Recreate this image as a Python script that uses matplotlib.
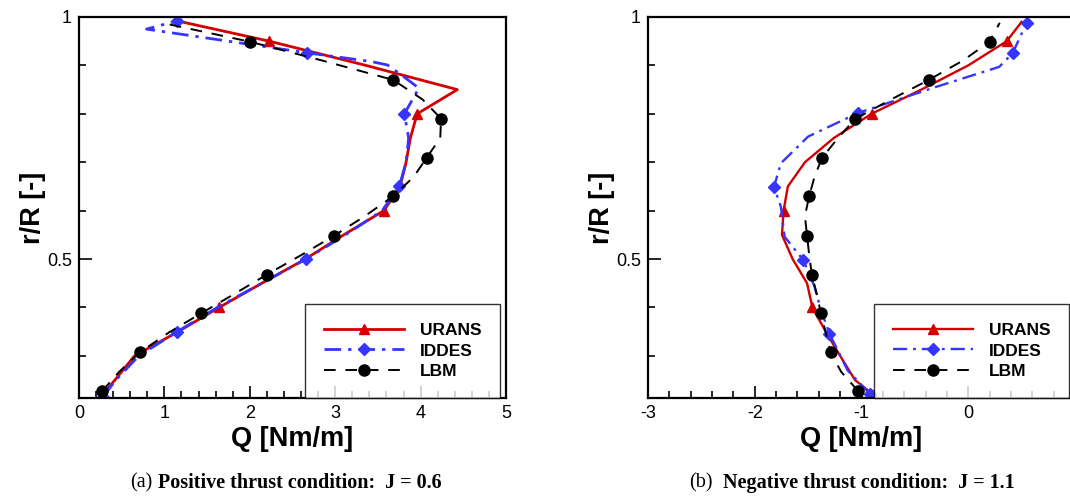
import matplotlib
matplotlib.use("Agg")
import matplotlib.pyplot as plt
from matplotlib.ticker import MultipleLocator

plt.rcParams['font.family'] = ['Liberation Sans', 'DejaVu Sans']
plt.rcParams['axes.unicode_minus'] = False

# (a) positive thrust, J = 0.6
r_urans = [0.22, 0.25, 0.30, 0.35, 0.40, 0.45, 0.50, 0.55, 0.60, 0.65, 0.70,
           0.75, 0.80, 0.85, 0.90, 0.95, 0.99]
q_urans_a = [0.28, 0.42, 0.65, 1.16, 1.64, 2.14, 2.65, 3.10, 3.57, 3.76, 3.83,
             3.88, 3.96, 4.43, 3.36, 2.23, 1.20]
urans_marks = [0, 4, 8, 12, 15]

r_iddes_a = [0.215, 0.25, 0.30, 0.35, 0.40, 0.45, 0.50, 0.55, 0.60, 0.63, 0.65,
             0.70, 0.75, 0.80, 0.853, 0.877, 0.901, 0.908, 0.926, 0.975, 0.992]
q_iddes_a = [0.28, 0.43, 0.70, 1.15, 1.62, 2.14, 2.66, 3.12, 3.55, 3.67, 3.75,
             3.83, 3.86, 3.81, 3.98, 3.80, 3.61, 3.42, 2.67, 0.79, 1.15]
iddes_marks_a = [0, 3, 6, 10, 13, 18, 20]

r_lbm = [0.227, 0.267, 0.307, 0.348, 0.388, 0.428, 0.468, 0.508, 0.548, 0.589,
         0.630, 0.670, 0.709, 0.750, 0.790, 0.830, 0.870, 0.910, 0.949, 0.988]
q_lbm_a = [0.27, 0.47, 0.71, 1.05, 1.43, 1.82, 2.20, 2.60, 2.985, 3.35,
           3.68, 3.92, 4.07, 4.23, 4.24, 4.02, 3.68, 2.85, 2.00, 0.97]

# (b) negative thrust, J = 1.1
q_urans_b = [-0.89, -1.06, -1.20, -1.335, -1.46, -1.51, -1.645, -1.745, -1.73,
             -1.69, -1.53, -1.26, -0.906, -0.44, 0.0, 0.36, 0.50]

r_iddes_b = [0.221, 0.27, 0.346, 0.395, 0.443, 0.498, 0.546, 0.608, 0.649,
             0.698, 0.753, 0.802, 0.855, 0.897, 0.925, 0.988]
q_iddes_b = [-0.92, -1.13, -1.30, -1.38, -1.44, -1.545, -1.72, -1.755, -1.82,
             -1.755, -1.50, -1.03, -0.31, 0.29, 0.415, 0.547]
iddes_marks_b = [0, 2, 5, 8, 11, 14, 15]

q_lbm_b = [-1.03, -1.19, -1.29, -1.335, -1.38, -1.42, -1.465, -1.49, -1.51,
           -1.53, -1.49, -1.44, -1.37, -1.22, -1.057, -0.72, -0.37, -0.05,
           0.20, 0.295]

red = '#d20000'
blue = '#3535ff'

fig = plt.figure(figsize=(10.7, 4.96), dpi=100)
ax1 = fig.add_axes([79 / 1070, 98 / 496, 427 / 1070, 381 / 496])
ax2 = fig.add_axes([648 / 1070, 98 / 496, 427 / 1070, 381 / 496])


def draw(ax, qu, ri, qi, mi, ql, lw):
    ax.plot(qu, r_urans, color=red, lw=lw, marker='^', ms=7,
            markevery=urans_marks, label='URANS')
    ax.plot(qi, ri, color=blue, lw=lw, marker='D', ms=6.5,
            markevery=mi, dashes=(6, 2.5, 1.2, 2.5), label='IDDES')
    ax.plot(ql, r_lbm, color='black', lw=1.4, marker='o', ms=8,
            markevery=2, dashes=(6, 5), label='LBM')
    ax.set_ylim(0.213, 1.0)
    ax.set_yticks([0.5, 1.0])
    ax.set_yticklabels(['0.5', '1'])
    ax.yaxis.set_minor_locator(MultipleLocator(0.1))
    ax.xaxis.set_minor_locator(MultipleLocator(0.2))
    ax.tick_params(which='both', direction='in', top=False, right=False,
                   labelsize=13, width=1.2)
    ax.tick_params(which='major', length=9, pad=5)
    ax.tick_params(which='minor', length=5)
    for s in ax.spines.values():
        s.set_linewidth(1.6)
    ax.set_xlabel('Q [Nm/m]', fontsize=19.5, fontweight='bold', labelpad=3)
    ax.set_ylabel('r/R [-]', fontsize=19.5, fontweight='bold', labelpad=1)
    leg = ax.legend(loc='lower right', bbox_to_anchor=(0.987, 0.0),
                    borderaxespad=0, handlelength=4.6,
                    handletextpad=0.9, labelspacing=0.3, borderpad=1.1,
                    fancybox=False, prop={'weight': 'bold', 'size': 12.5})
    leg.get_frame().set_edgecolor('black')
    leg.get_frame().set_linewidth(1.0)


draw(ax1, q_urans_a, r_iddes_a, q_iddes_a, iddes_marks_a, q_lbm_a, 2.0)
ax1.set_xlim(0, 5)
ax1.set_xticks([0, 1, 2, 3, 4, 5])

draw(ax2, q_urans_b, r_iddes_b, q_iddes_b, iddes_marks_b, q_lbm_b, 1.7)
ax2.set_xlim(-3, 1)
ax2.set_xticks([-3, -2, -1, 0])

cap = dict(fontsize=14.5, family=['Liberation Serif', 'DejaVu Serif'], va='center')
cy = 1 - 483 / 496
fig.text(152 / 1070, cy, '(a)', ha='right', **cap)
fig.text(158 / 1070, cy, 'Positive thrust condition:  J = 0.6',
         ha='left', fontweight='bold', **cap)
fig.text(713 / 1070, cy, '(b)', ha='right', **cap)
fig.text(723 / 1070, cy, 'Negative thrust condition:  J = 1.1',
         ha='left', fontweight='bold', **cap)

fig.savefig('out.png', dpi=100)
